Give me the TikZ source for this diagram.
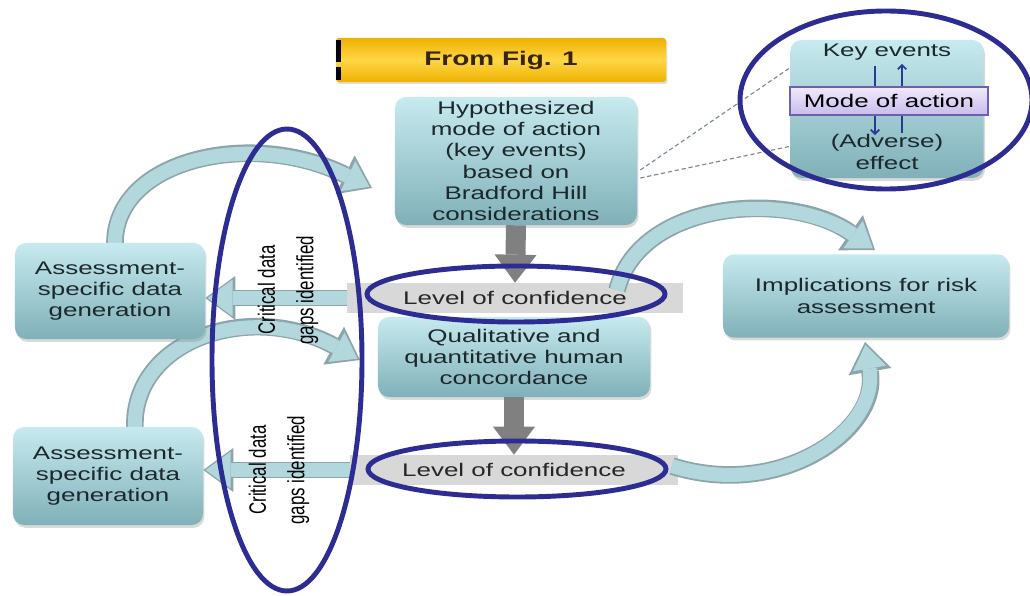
\documentclass[tikz,border=0pt]{standalone}
\usepackage{fontspec}
\setmainfont{Liberation Sans}
\newfontfamily\widesans{Liberation Sans}[FakeStretch=1.42]
\usetikzlibrary{calc,shadows,arrows.meta}

\definecolor{boxtop}{RGB}{198,234,239}
\definecolor{boxbot}{RGB}{128,176,184}
\definecolor{boxtext}{RGB}{28,40,44}
\definecolor{ringblue}{RGB}{44,44,146}
\definecolor{bandgray}{RGB}{216,216,216}
\definecolor{downgray}{RGB}{128,128,128}
\definecolor{arrowrim}{RGB}{140,165,170}
\definecolor{arrowbody}{RGB}{178,215,221}
\definecolor{goldtop}{RGB}{238,178,0}
\definecolor{goldmid}{RGB}{255,214,70}
\definecolor{figtext}{RGB}{55,38,14}
\definecolor{moatop}{RGB}{240,234,252}
\definecolor{moabot}{RGB}{200,188,236}
\definecolor{moaline}{RGB}{110,96,176}
\definecolor{moaarrow}{RGB}{40,58,150}
\definecolor{dashgray}{RGB}{120,135,150}

% fat arrow along a curve: rim first, then body
\newcommand{\fatcurve}[4]{
    \draw[curverim] #1 .. controls #2 and #3 .. #4;
    \draw[curvebody] #1 .. controls #2 and #3 .. #4;
}
\newcommand{\fatline}[2]{
    \draw[blockrim] #1 -- #2;
    \draw[blockbody] #1 -- #2;
}

\begin{document}
\begin{tikzpicture}[x=0.025cm,y=-0.025cm,
    tealbox/.style={rounded corners=8pt,top color=boxtop,bottom color=boxbot,align=center,
        text=boxtext,font=\widesans\fontsize{13}{15}\selectfont,inner sep=1pt,
        drop shadow={shadow xshift=1pt,shadow yshift=-2pt,opacity=0.3}},
    band/.style={fill=bandgray,minimum height=0.75cm,inner sep=0pt,text=black!85,
        font=\widesans\fontsize{13}{15}\selectfont},
    plain/.style={align=center,inner sep=1pt,text=boxtext,font=\widesans\fontsize{13}{15}\selectfont},
    gaptext/.style={align=center,inner sep=0pt,text=black,font=\fontsize{12}{19.5}\selectfont,
        xscale=1.4,rotate=90},
    ring/.style={draw=ringblue,line width=3.5pt},
    downarrow/.style={draw=downgray,line width=0.5cm,
        -{Triangle[length=0.7cm,width=1.05cm,line width=0pt]}},
    curverim/.style={draw=arrowrim,line width=0.44cm,
        -{Triangle[length=0.75cm,width=1.08cm,line width=0pt]}},
    curvebody/.style={draw=arrowbody,line width=0.35cm,shorten >=0.07cm,
        -{Triangle[length=0.6cm,width=0.84cm,line width=0pt]}},
    blockrim/.style={draw=arrowrim,line width=0.42cm,
        -{Triangle[length=0.75cm,width=1.1cm,line width=0pt]}},
    blockbody/.style={draw=arrowbody,line width=0.34cm,shorten >=0.06cm,
        -{Triangle[length=0.62cm,width=0.92cm,line width=0pt]}},
    zoomline/.style={draw=dashgray,line width=0.8pt,dash pattern=on 3pt off 2pt},
    moaarr/.style={draw=moaarrow,line width=1.2pt,-{Straight Barb[length=3pt,width=6pt]}}]
    \useasboundingbox (0,0) rectangle (1030,596);

    % banner
    \node[rounded corners=2pt,top color=goldtop,bottom color=goldtop,middle color=goldmid,
        minimum width=8.25cm,minimum height=1.1cm,text=figtext,
        font=\widesans\bfseries\fontsize{14}{16}\selectfont,
        drop shadow={shadow xshift=1pt,shadow yshift=-1.5pt,opacity=0.25}] (fig) at (501,60) {From Fig. 1};
    \fill[black] ($(fig.north west)+(0,2)$) rectangle ++(5,22);
    \fill[black] ($(fig.south west)+(0,-2)$) rectangle ++(5,-13);

    % bands
    \node[band,minimum width=8.375cm] (lev1) at (515,298) {Level of confidence};
    \node[band,minimum width=8.2cm] (lev2) at (514,470) {Level of confidence};

    % curved arrows
    \fatcurve{(115,246)}{(112,160)}{(250,128)}{(372,188)}
    \fatcurve{(135,430)}{(130,340)}{(250,300)}{(360,360)}
    \fatcurve{(617,290)}{(640,200)}{(790,190)}{(875,250)}
    \fatcurve{(672,466)}{(780,500)}{(880,430)}{(865,342)}

    % boxes
    \node[tealbox,minimum width=6.05cm,minimum height=3.2cm] (hyp) at (516,161)
        {Hypothesized\\mode of action\\(key events)\\based on\\Bradford Hill\\considerations};
    \node[tealbox,minimum width=6.8cm,minimum height=2.0cm] (qual) at (514,357)
        {Qualitative and\\quantitative human\\concordance};
    \node[tealbox,minimum width=7.15cm,minimum height=2.08cm] (impl) at (866,296)
        {Implications for risk\\assessment};
    \node[tealbox,minimum width=4.75cm,minimum height=2.4cm] (asm1) at (110,291)
        {Assessment-\\specific data\\generation};
    \node[tealbox,minimum width=4.75cm,minimum height=2.45cm] (asm2) at (108,476)
        {Assessment-\\specific data\\generation};

    % inset
    \node[tealbox,minimum width=4.83cm,minimum height=3.45cm] (moabox) at (887,109) {};
    \node[plain] (ke) at (887,52) {Key events};
    \node[plain] (adv) at (887,152) {(Adverse)\\effect};
    \draw[moaarr] ($(ke.south)+(-12,4)$) -- ($(adv.north)+(-12,2)$);
    \draw[moaarr] ($(adv.north)+(15,0)$) -- ($(ke.south)+(15,2)$);
    \node[plain,draw=moaline,line width=0.8pt,top color=moatop,bottom color=moabot,
        minimum width=4.95cm,minimum height=0.7cm,text=black] (moa) at (889,101) {Mode of action};

    \draw[zoomline] ($(hyp.east)+(3,9)$) -- ($(moabox.north west)+(0,28)$);
    \draw[zoomline] ($(hyp.east)+(3,17)$) -- ($(moabox.south west)+(0,-32)$);

    % straight arrows
    \draw[downarrow] (hyp.south) -- (lev1.north);
    \draw[downarrow] (qual.south) -- (lev2.north);
    \fatline{(lev1.west)}{(lev1.west -| asm1.east)}
    \fatline{(lev2.west)}{(lev2.west -| asm2.east)}

    \node[gaptext] (gap1) at (288,290) {Critical data\\gaps identified};
    \node[gaptext] (gap2) at (279,470) {Critical data\\gaps identified};

    % highlight rings
    \draw[ring] (886,100) ellipse [x radius=146, y radius=89];
    \draw[ring] ($(lev1)+(1,-4)$) ellipse [x radius=149, y radius=28];
    \draw[ring] ($(lev2)+(3,-1)$) ellipse [x radius=149, y radius=28];
    \draw[ring] (287,360) ellipse [x radius=75, y radius=231];
\end{tikzpicture}
\end{document}
